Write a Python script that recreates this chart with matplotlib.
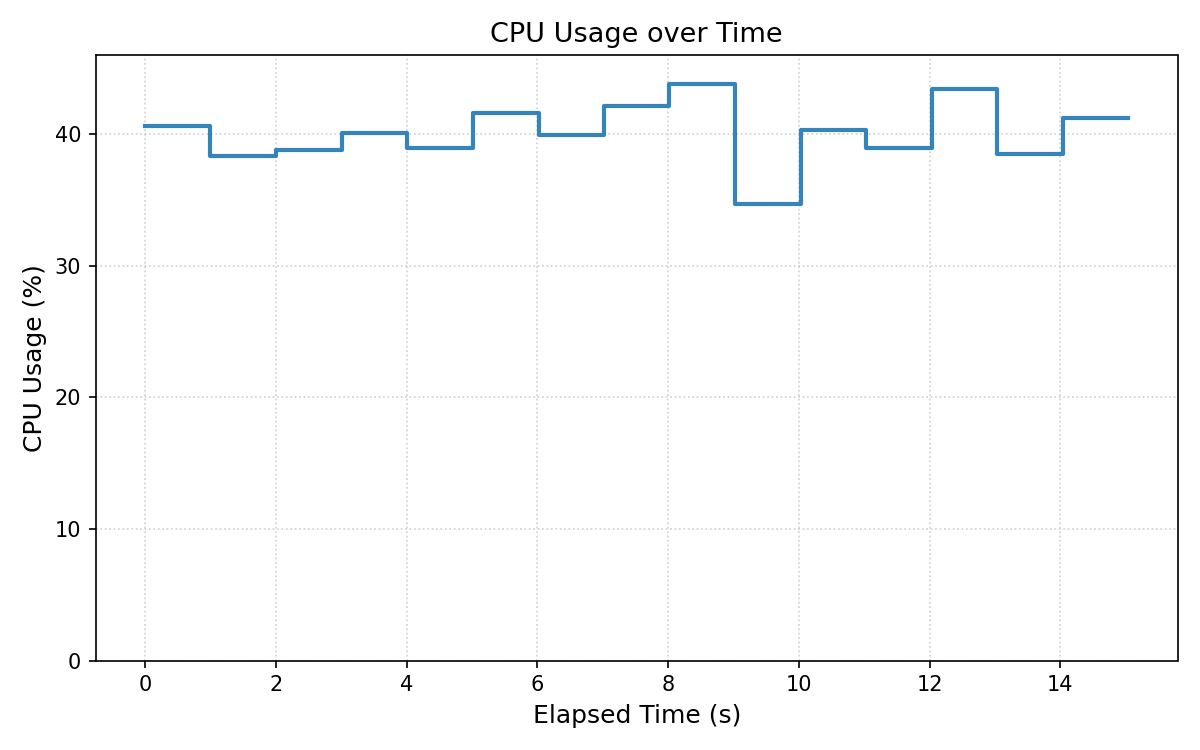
import matplotlib
matplotlib.use("Agg")
import matplotlib.pyplot as plt

# elapsed seconds of each sample and the CPU usage read at that moment
elapsed_s = [0.0, 1.0, 2.0, 3.01, 4.01, 5.01, 6.02, 7.02, 8.02, 9.02,
             10.03, 11.03, 12.03, 13.03, 14.04, 15.04]
cpu_pct = [40.6, 38.3, 38.8, 40.1, 38.9, 41.6, 39.9, 42.1, 43.8, 34.7,
           40.3, 38.9, 43.4, 38.5, 41.2, 41.2]

fig, ax = plt.subplots(figsize=(8, 5), dpi=150)
ax.step(elapsed_s, cpu_pct, where="post", color="#1f77b4", alpha=0.9, linewidth=2)
ax.set_ylim(0, max(cpu_pct) * 1.05)
ax.set_title("CPU Usage over Time", fontsize=13)
ax.set_xlabel("Elapsed Time (s)", fontsize=12)
ax.set_ylabel("CPU Usage (%)", fontsize=12)
ax.grid(True, linestyle=":", alpha=0.6)
fig.tight_layout()
fig.savefig("out.png", dpi=150)
